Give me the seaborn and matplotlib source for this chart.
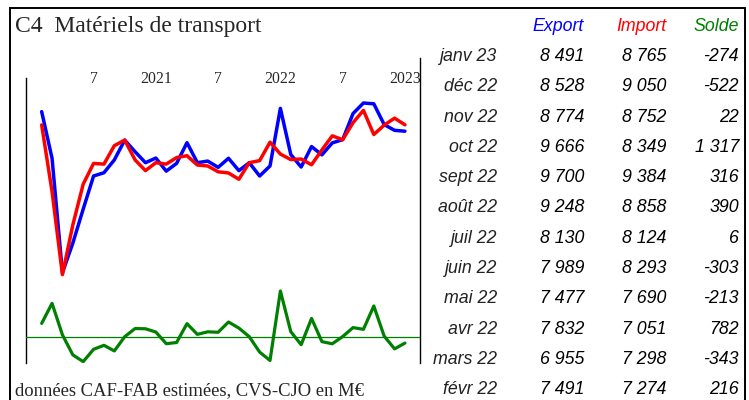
import matplotlib
matplotlib.use('Agg')
import matplotlib.pyplot as plt
from matplotlib.patches import Rectangle
import numpy as np
import seaborn as sns

# monthly series, févr 2020 .. janv 2023, M EUR (CVS-CJO)
export = [9330, 7330, 2420, 3690, 5150, 6570, 6710, 7260, 8110, 7610, 7140, 7340,
          6780, 7110, 8000, 7140, 7210, 6940, 7330, 6800, 7140, 6570, 7000, 9470,
          7491, 6955, 7832, 7477, 7989, 8130, 9248, 9700, 9666, 8774, 8528, 8491]
imports = [8760, 5900, 2340, 4470, 6220, 7110, 7080, 7870, 8110, 7260, 6800, 7140,
           7080, 7360, 7440, 7040, 7000, 6750, 6700, 6430, 7140, 7230, 8020, 7510,
           7274, 7298, 7051, 7690, 8293, 8124, 8858, 9384, 8349, 8752, 9050, 8765]
solde = [570, 1430, 80, -780, -1070, -540, -370, -610, 0, 350, 340, 200,
         -300, -250, 560, 100, 210, 190, 630, 370, 0, -660, -1020, 1960,
         216, -343, 782, -213, -303, 6, 390, 316, 1317, 22, -522, -274]

tick_pos = [5, 11, 17, 23, 29, 35]
tick_labels = ["7", "2021", "7", "2022", "7", "2023"]

# table rows, most recent first
table_months = ["janv 23", "déc 22", "nov 22", "oct 22", "sept 22", "août 22",
                "juil 22", "juin 22", "mai 22", "avr 22", "mars 22", "févr 22"]

BLUE, RED, GREEN = '#0000FF', '#FF0000', '#008000'
W, H = 749, 400

sns.set_style("white")
plt.rcParams['font.family'] = ['Liberation Serif', 'DejaVu Serif']

fig = plt.figure(figsize=(W / 100, H / 100), dpi=100)

# chart panel
ax = fig.add_axes([26 / W, 37 / H, 394 / W, 305 / H])
x = np.arange(len(export))
sns.lineplot(x=x, y=export, ax=ax, color=BLUE, lw=2.5)
sns.lineplot(x=x, y=imports, ax=ax, color=RED, lw=2.5)
ax.set_xlim(-1.51, 36.45)
ax.set_ylim(-1449, 11630)

ax2 = ax.twinx()
ax2.axhline(0, color=GREEN, lw=0.9)
sns.lineplot(x=x, y=solde, ax=ax2, color=GREEN, lw=2.3)
ax2.set_ylim(-1128, 11951)
ax2.set_yticks([])
ax2.set_ylabel('')
for s in ax2.spines.values():
    s.set_visible(False)

ax.set_yticks([])
ax.xaxis.tick_top()
ax.set_xticks(tick_pos, tick_labels)
ax.tick_params(axis='x', length=0, pad=-21, labelsize=11.3)
ax.spines['top'].set_visible(False)
ax.spines['bottom'].set_visible(False)
ax.spines['left'].set_bounds(-1449, 10772)
for side in ('left', 'right'):
    ax.spines[side].set_color('black')
    ax.spines[side].set_linewidth(1.0)

# outer frame
fig.patches.append(Rectangle((10 / W, -0.1), 735 / W, 1.1 - 8 / H,
                             transform=fig.transFigure, fill=False,
                             ec='black', lw=1.4))

fig.text(15 / W, 1 - 32 / H, "C4  Matériels de transport", fontsize=17,
         va='baseline', ha='left')
fig.text(15 / W, 1 - 395 / H, "données CAF-FAB estimées, CVS-CJO en M€",
         fontsize=13.4, va='baseline', ha='left')

# table
def fmt(v):
    return f"{v:,}".replace(",", " ")

tfont = dict(family=['Liberation Sans', 'DejaVu Sans'], style='italic',
             fontsize=12.8, va='baseline', ha='right')
cols = [584, 666, 739]
for xc, name, c in zip(cols, ["Export", "Import", "Solde"], [BLUE, RED, GREEN]):
    fig.text(xc / W, 1 - 31 / H, name, color=c, **tfont)

n = len(table_months)
exp_rows = export[::-1][:n]
imp_rows = imports[::-1][:n]
sol_rows = solde[::-1][:n]
for k in range(n):
    yb = 1 - (61 + 30.3 * k) / H
    fig.text(497 / W, yb, table_months[k], color='#222222', **tfont)
    for xc, v in zip(cols, [exp_rows[k], imp_rows[k], sol_rows[k]]):
        fig.text(xc / W, yb, fmt(v), color='black', **tfont)

fig.savefig("out.png", dpi=100)
plt.close(fig)
